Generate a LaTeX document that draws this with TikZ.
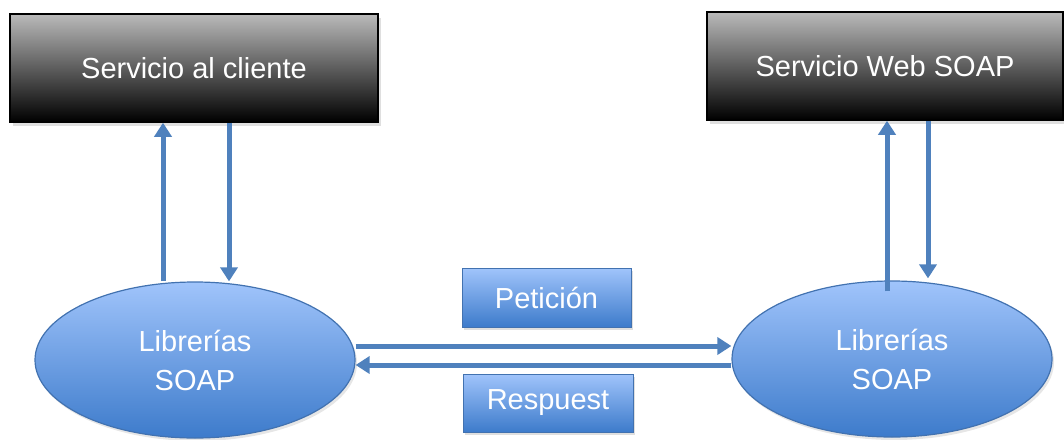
\documentclass[tikz,border=0pt]{standalone}
\usepackage{fontspec}
\setmainfont{Liberation Sans}
\usetikzlibrary{arrows.meta,shapes.geometric,shadows}

\definecolor{arrowblue}{RGB}{79,129,189}
\definecolor{edgeblue}{RGB}{66,114,176}
\definecolor{lightblue}{RGB}{160,196,251}
\definecolor{deepblue}{RGB}{61,123,203}
\definecolor{boxtop}{RGB}{186,186,186}
\definecolor{boxmid}{RGB}{128,128,128}

\tikzset{
  every node/.style={text=white, font=\fontsize{29}{39}\selectfont, align=center},
  darkbox/.style={draw=black, line width=1.5pt, rectangle,
    top color=boxtop, middle color=boxmid, bottom color=black,
    drop shadow={shadow xshift=3pt, shadow yshift=-4pt, opacity=0.25}},
  libnode/.style={ellipse, draw=edgeblue, line width=1.2pt, inner sep=0pt,
    minimum width=320pt, minimum height=156pt,
    top color=lightblue, bottom color=deepblue,
    drop shadow={shadow xshift=2pt, shadow yshift=-3pt, opacity=0.2}},
  msgbox/.style={rectangle, draw=edgeblue, line width=1pt, inner sep=0pt,
    top color=lightblue, bottom color=deepblue,
    drop shadow={shadow xshift=2pt, shadow yshift=-3pt, opacity=0.25}},
  arr/.style={draw=arrowblue, line width=5pt,
    -{Triangle[width=17pt,length=14pt]}},
}

\begin{document}
\begin{tikzpicture}[x=1pt, y=-1pt]
  \useasboundingbox (0,0) rectangle (1064,439);

  % top boxes
  \node[darkbox, minimum width=368pt, minimum height=108pt] (cli) at (194,68) {Servicio al cliente};
  \node[darkbox, minimum width=356pt, minimum height=108pt] (ws) at (885,66) {Servicio Web SOAP};

  % SOAP libraries on each side
  \node[libnode] (lcli) at (195,360) {Librerías\\SOAP};
  \node[libnode] (lws) at (892,359) {Librerías\\SOAP};

  % message labels
  \node[msgbox, minimum width=169pt, minimum height=59pt] (pet) at (546.5,297.5) {Petición};
  \node[msgbox, minimum width=170pt, minimum height=58pt] (res) at (548,403) {Respuest};

  % client side: library <-> client
  \draw[arr] ([xshift=-32pt]lcli.north) -- ([xshift=-32pt]lcli.north |- cli.south);
  \draw[arr] ([xshift=34pt]lcli.north |- cli.south) -- ([xshift=34pt]lcli.north);

  % server side: library <-> web service
  \draw[arr] ([xshift=-5pt,yshift=-11pt]lws.north) -- ([xshift=-5pt]lws.north |- ws.south);
  \draw[arr] ([xshift=36pt]lws.north |- ws.south) -- ([xshift=36pt,yshift=2pt]lws.north);

  % request and response between libraries
  \draw[arr] ([yshift=14pt]lcli.east) -- ([yshift=13pt]lws.west);
  \draw[arr] ([yshift=-6pt]lws.west) -- ([yshift=-5pt]lcli.east);
\end{tikzpicture}
\end{document}
